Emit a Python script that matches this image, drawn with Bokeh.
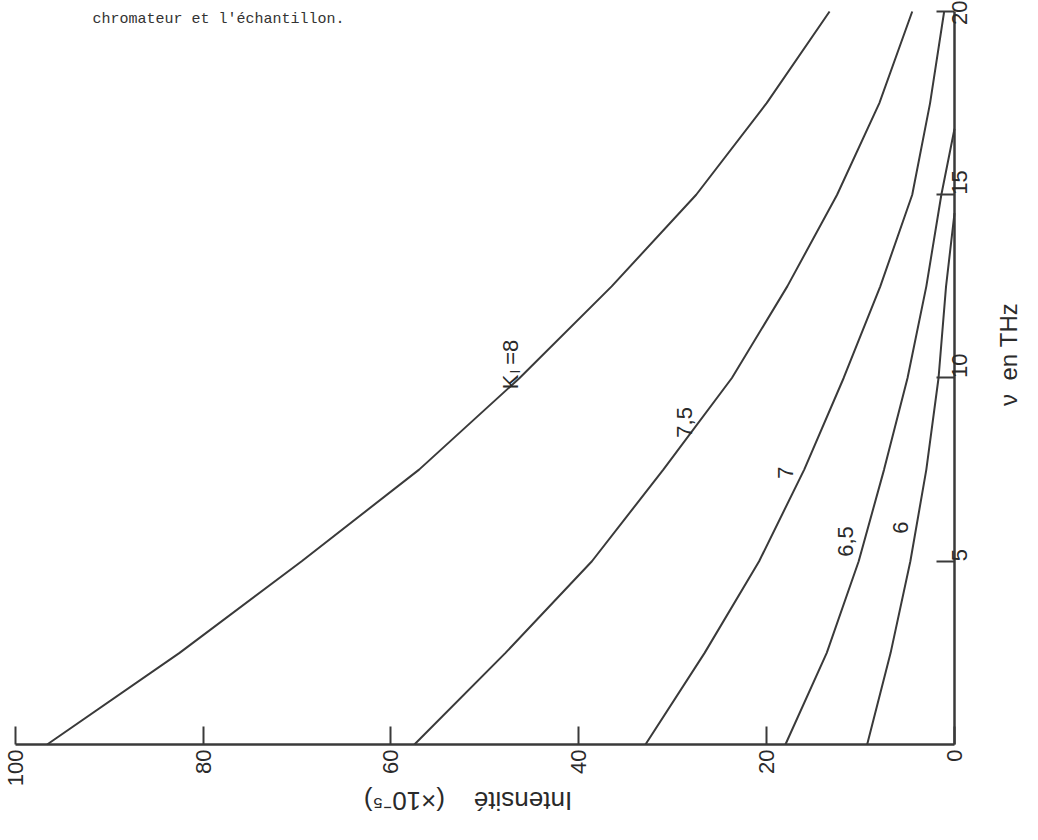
import math
from bokeh.plotting import figure
from bokeh.models import Range1d, FixedTicker, Label
from bokeh.embed import file_html
from bokeh.resources import INLINE

# frequency nu (THz) and intensity (x 1e-5)
nu_a = [0, 2.5, 5, 7.5, 10, 12.5, 15, 17.5, 20]
k8 = [96.6, 82.5, 69.5, 57.0, 46.3, 36.5, 27.5, 20.0, 13.3]
k75 = [57.5, 47.8, 38.6, 31.0, 23.7, 17.8, 12.5, 8.0, 4.5]
k7 = [32.9, 26.6, 20.8, 16.0, 11.8, 7.9, 4.5, 2.6, 1.1]
nu_65 = [0, 2.5, 5, 7.5, 10, 12.5, 15, 16.8]
k65 = [18.0, 13.6, 10.2, 7.5, 5.0, 3.0, 1.4, 0.0]
nu_6 = [0, 2.5, 5, 7.5, 10, 12.5, 14.5]
k6 = [9.3, 6.8, 4.7, 3.0, 1.7, 0.9, 0.0]

int_ticks = [0, 20, 40, 60, 80, 100]
nu_ticks = [5, 10, 15, 20]

curve_labels = ["7,5", "7", "6,5", "6"]
curve_label_I = [28.75, 18.0, 11.6, 5.75]
curve_label_nu = [8.79, 7.42, 5.54, 5.92]

INK = "#3a3a3a"
TXT = "#2a2a2a"
FONT = "Liberation Sans"

# the frame fills the whole canvas; the axes are pinned at I = 0 and nu = 0
p = figure(width=1022, height=824,
           x_range=Range1d(101.565, -7.239), y_range=Range1d(-2.183, 20.300),
           output_backend="svg", toolbar_location=None, y_axis_location="right",
           min_border_left=0, min_border_top=0, min_border_right=0, min_border_bottom=0)
p.grid.visible = False
p.outline_line_color = None
p.background_fill_color = "white"
p.border_fill_color = "white"

xa = p.xaxis[0]
ya = p.yaxis[0]
xa.fixed_location = 0
ya.fixed_location = 0
xa.bounds = (0, 100)
ya.bounds = (0, 20)

for ax, ticks in ((xa, int_ticks), (ya, nu_ticks)):
    ax.ticker = FixedTicker(ticks=ticks)
    ax.minor_tick_line_color = None
    ax.major_tick_in = 18
    ax.major_tick_out = 0
    ax.axis_line_width = 2.5
    ax.axis_line_color = INK
    ax.major_tick_line_width = 2
    ax.major_tick_line_color = INK
    ax.major_label_orientation = math.pi / 2
    ax.major_label_text_font = FONT
    ax.major_label_text_font_size = "22px"
    ax.major_label_text_color = TXT
    ax.major_label_standoff = 5

for xs, ys in ((k8, nu_a), (k75, nu_a), (k7, nu_a), (k65, nu_65), (k6, nu_6)):
    p.line(x=xs, y=ys, line_color=INK, line_width=2)

for t, xi, yi in zip(curve_labels, curve_label_I, curve_label_nu):
    p.add_layout(Label(x=xi, y=yi, text=t, angle=math.pi / 2, text_align="center",
                       text_baseline="middle", text_font=FONT, text_font_size="22px",
                       text_color=TXT))

# K_I = 8 label
p.add_layout(Label(x=47.3, y=9.69, text="K", angle=math.pi / 2, text_align="left",
                   text_baseline="alphabetic", text_font=FONT, text_font_size="22px",
                   text_color=TXT))
p.add_layout(Label(x=46.8, y=10.12, text="I", angle=math.pi / 2, text_align="left",
                   text_baseline="alphabetic", text_font=FONT, text_font_size="14px",
                   text_color=TXT))
p.add_layout(Label(x=47.3, y=10.36, text="=8", angle=math.pi / 2, text_align="left",
                   text_baseline="alphabetic", text_font=FONT, text_font_size="22px",
                   text_color=TXT))

# axis titles
p.add_layout(Label(x=51.8, y=-1.53, text="Intensité\u00a0\u00a0\u00a0\u00a0(×10⁻⁵)",
                   angle=math.pi, text_align="center", text_baseline="alphabetic",
                   text_font=FONT, text_font_size="26px", text_color=TXT))
p.add_layout(Label(x=-5.75, y=10.64, text="ν\u00a0\u00a0en\u00a0THz", angle=math.pi / 2,
                   text_align="center", text_baseline="middle", text_font=FONT,
                   text_font_size="24px", text_color=TXT))

# caption line of the page
p.add_layout(Label(x=91.77, y=19.78, text="chromateur et l'échantillon.",
                   text_align="left", text_baseline="alphabetic",
                   text_font="Liberation Mono", text_font_size="15px",
                   text_color="#333333"))

open("out.html", "w").write(file_html(p, INLINE))
